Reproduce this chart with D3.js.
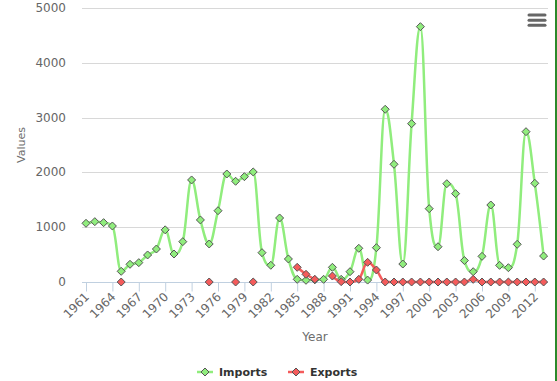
<!DOCTYPE html>
<html><head><meta charset="utf-8">
<script src="https://cdn.jsdelivr.net/npm/d3@7"></script>
<style>
html,body{margin:0;padding:0;background:#fff;}
svg{display:block;font-family:"DejaVu Sans",Verdana,sans-serif;}
</style></head>
<body>
<svg id="chart" width="557" height="381"></svg>
<script>
const years = [1961,1962,1963,1964,1965,1966,1967,1968,1969,1970,1971,1972,1973,1974,1975,1976,1977,1978,1979,1980,1981,1982,1983,1984,1985,1986,1987,1988,1989,1990,1991,1992,1993,1994,1995,1996,1997,1998,1999,2000,2001,2002,2003,2004,2005,2006,2007,2008,2009,2010,2011,2012,2013];
const imports = [1071,1101,1083,1022,195,323,353,493,602,952,511,736,1862,1132,694,1301,1971,1838,1922,2008,535,305,1168,420,49,31,40,49,268,49,188,615,35,626,3152,2148,328,2889,4659,1338,644,1794,1612,392,188,468,1405,304,261,688,2743,1801,474];
const exportsV = [null,null,null,null,0,null,null,null,null,null,null,null,null,null,0,null,null,0,null,0,null,null,null,null,268,140,49,null,109,6,0,49,359,219,0,0,0,0,0,0,0,0,0,0,49,0,0,0,0,0,0,0,0];
const xTicks = [1961,1964,1967,1970,1973,1976,1979,1982,1985,1988,1991,1994,1997,2000,2003,2006,2009,2012];
const yTicks = [0,1000,2000,3000,4000,5000];
const seriesNames = ["Imports","Exports"];
const seriesColors = ["#90ed7d","#f45b5b"];

const svg = d3.select("#chart");
const plotL = 82, plotR = 548;
const x = d3.scaleLinear().domain([1961, 2013]).range([86, 543.6]);
const y = d3.scaleLinear().domain([0, 5000]).range([282, 8]);

// right border
svg.append("rect").attr("x", 555).attr("y", 0).attr("width", 2).attr("height", 381).attr("fill", "#2b8a2b");

// gridlines
svg.append("g").selectAll("line").data(yTicks.filter(d => d > 0)).join("line")
  .attr("x1", plotL).attr("x2", plotR)
  .attr("y1", d => Math.round(y(d)) + 0.5).attr("y2", d => Math.round(y(d)) + 0.5)
  .attr("stroke", "#d8d8d8").attr("stroke-width", 1);

// y labels
svg.append("g").selectAll("text").data(yTicks).join("text")
  .attr("x", 66).attr("y", d => y(d) + 4)
  .attr("text-anchor", "end").attr("font-size", "12px").attr("fill", "#666")
  .text(d => d);

// y title
svg.append("text").attr("transform", "translate(25,145) rotate(-90)")
  .attr("text-anchor", "middle").attr("font-size", "11px").attr("fill", "#6d6d6d").text("Values");

// x axis
const xAxis = d3.axisBottom(x).tickValues(xTicks).tickSize(9).tickFormat(d3.format("d"));
const gx = svg.append("g").attr("transform", "translate(0,282.5)").call(xAxis);
gx.select(".domain").attr("d", `M${plotL},0H${plotR}`).attr("stroke", "#c0d0e0");
gx.selectAll(".tick line").attr("stroke", "#c0d0e0");
gx.selectAll(".tick text")
  .attr("font-family", "DejaVu Sans, sans-serif").attr("font-size", "12px").attr("fill", "#666")
  .attr("text-anchor", "end").attr("dy", null).attr("y", null)
  .attr("transform", "translate(3.5,15) rotate(-45)");

// x title
svg.append("text").attr("x", 315).attr("y", 341).attr("text-anchor", "middle")
  .attr("font-size", "12px").attr("fill", "#6d6d6d").text("Year");

// Highcharts-like spline curve
function HCSpline(context) { this._context = context; }
HCSpline.prototype = {
  areaStart() {}, areaEnd() {},
  lineStart() { this._pts = []; },
  point(px, py) { this._pts.push([+px, +py]); },
  lineEnd() {
    const p = this._pts, n = p.length, c = this._context;
    if (!n) return;
    const s = 1.5, den = 2.5;
    const L = [], R = [];
    for (let i = 0; i < n; i++) {
      const [px, py] = p[i];
      if (i > 0 && i < n - 1) {
        const [lx, ly] = p[i - 1], [nx, ny] = p[i + 1];
        let lcx = (s * px + lx) / den, lcy = (s * py + ly) / den;
        let rcx = (s * px + nx) / den, rcy = (s * py + ny) / den;
        let corr = 0;
        if (rcx !== lcx) corr = ((rcy - lcy) * (rcx - px)) / (rcx - lcx) + py - rcy;
        lcy += corr; rcy += corr;
        if (lcy > ly && lcy > py) { lcy = Math.max(ly, py); rcy = 2 * py - lcy; }
        else if (lcy < ly && lcy < py) { lcy = Math.min(ly, py); rcy = 2 * py - lcy; }
        if (rcy > ny && rcy > py) { rcy = Math.max(ny, py); lcy = 2 * py - rcy; }
        else if (rcy < ny && rcy < py) { rcy = Math.min(ny, py); lcy = 2 * py - rcy; }
        L[i] = [lcx, lcy]; R[i] = [rcx, rcy];
      } else { L[i] = [px, py]; R[i] = [px, py]; }
    }
    c.moveTo(p[0][0], p[0][1]);
    for (let i = 1; i < n; i++) {
      c.bezierCurveTo(R[i - 1][0], R[i - 1][1], L[i][0], L[i][1], p[i][0], p[i][1]);
    }
  }
};
const hcSpline = ctx => new HCSpline(ctx);

const series = [imports, exportsV];
const diamond = (cx, cy, r) => `M${cx},${cy - r}L${cx + r},${cy}L${cx},${cy + r}L${cx - r},${cy}Z`;

series.forEach((vals, si) => {
  const data = years.map((yr, i) => ({ yr, v: vals[i] }));
  const line = d3.line().defined(d => d.v !== null).x(d => x(d.yr)).y(d => y(d.v)).curve(hcSpline);
  const g = svg.append("g");
  g.append("path").attr("d", line(data)).attr("fill", "none")
    .attr("stroke", seriesColors[si]).attr("stroke-width", 2.5)
    .attr("stroke-linejoin", "round").attr("stroke-linecap", "round");
  g.selectAll("path.m").data(data.filter(d => d.v !== null)).join("path").attr("class", "m")
    .attr("d", d => diamond(x(d.yr), y(d.v), 4))
    .attr("fill", seriesColors[si]).attr("stroke", "#555").attr("stroke-width", 1);
});

// legend
const legX = [197, 288];
seriesNames.forEach((name, i) => {
  const g = svg.append("g").attr("transform", `translate(${legX[i]},372)`);
  g.append("line").attr("x1", 0).attr("x2", 16).attr("y1", 0).attr("y2", 0)
    .attr("stroke", seriesColors[i]).attr("stroke-width", 2.5);
  g.append("path").attr("d", diamond(8, 0, 4)).attr("fill", seriesColors[i]).attr("stroke", "#555").attr("stroke-width", 1);
  g.append("text").attr("x", 22).attr("y", 4).attr("font-size", "11px").attr("font-weight", "bold")
    .attr("fill", "#333").text(name);
});

// menu icon
svg.append("g").selectAll("line").data([15, 20.3, 25.3]).join("line")
  .attr("x1", 529).attr("x2", 545).attr("y1", d => d).attr("y2", d => d)
  .attr("stroke", "#666").attr("stroke-width", 3).attr("stroke-linecap", "round");
</script>
</body></html>
